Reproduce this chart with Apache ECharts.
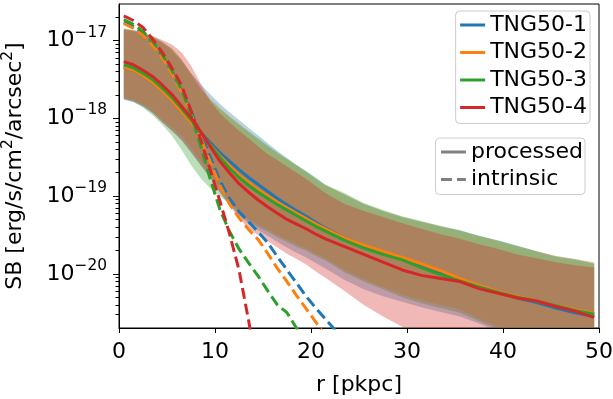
<!DOCTYPE html>
<html>
<head>
<meta charset="utf-8">
<script src="https://cdn.jsdelivr.net/npm/echarts@6/dist/echarts.min.js"></script>
<style>
  html, body { margin: 0; padding: 0; background: #fff; }
  #chart { width: 613px; height: 399px; }
</style>
</head>
<body>
<div id="chart"></div>
<script>
// radius grid [pkpc]
const R = [0.5, 1.5, 2.5, 3.5, 4.5, 5.5, 6.5, 7.5, 8.5, 9.5, 10.5, 11.5, 12.5, 13.5, 14.5, 15.5,
  16.5, 17.5, 18.5, 19.5, 20.5, 21.5, 23.5, 25.5, 27.5, 29.5, 31.5, 33.5, 35.5, 37.5, 39.5,
  41.5, 43.5, 45.5, 47.5, 49.5];

const SIMS = ["TNG50-1", "TNG50-2", "TNG50-3", "TNG50-4"];
const COLORS = ["#1f77b4", "#ff7f0e", "#2ca02c", "#d62728"];

// all values are log10(SB)

// processed (solid)
const proc1 = [-17.34, -17.38, -17.45, -17.54, -17.65, -17.77, -17.91, -18.04, -18.18, -18.31, -18.44, -18.55, -18.66, -18.76, -18.85, -18.94, -19.03, -19.11, -19.19, -19.26, -19.34, -19.41, -19.54, -19.64, -19.73, -19.81, -19.90, -19.98, -20.07, -20.16, -20.24, -20.31, -20.37, -20.44, -20.50, -20.55];
const proc2 = [-17.34, -17.38, -17.45, -17.54, -17.65, -17.77, -17.91, -18.05, -18.20, -18.34, -18.48, -18.61, -18.73, -18.83, -18.92, -19.00, -19.08, -19.15, -19.22, -19.29, -19.36, -19.42, -19.54, -19.63, -19.71, -19.79, -19.87, -19.96, -20.06, -20.15, -20.23, -20.29, -20.35, -20.41, -20.46, -20.51];
const proc3 = [-17.31, -17.35, -17.42, -17.50, -17.61, -17.73, -17.87, -18.02, -18.18, -18.34, -18.50, -18.64, -18.76, -18.86, -18.95, -19.03, -19.11, -19.18, -19.25, -19.32, -19.39, -19.45, -19.57, -19.67, -19.75, -19.82, -19.92, -20.01, -20.09, -20.17, -20.24, -20.30, -20.35, -20.41, -20.47, -20.52];
const proc4 = [-17.27, -17.31, -17.38, -17.46, -17.57, -17.69, -17.84, -17.99, -18.17, -18.36, -18.55, -18.70, -18.84, -18.95, -19.05, -19.14, -19.22, -19.30, -19.36, -19.42, -19.49, -19.55, -19.65, -19.75, -19.85, -19.95, -20.02, -20.06, -20.10, -20.19, -20.25, -20.31, -20.35, -20.42, -20.48, -20.56];

// intrinsic (dashed), same radii until they drop out of the plot
const intr1 = [-16.76, -16.82, -16.91, -17.04, -17.20, -17.40, -17.64, -17.91, -18.20, -18.49, -18.80, -19.03, -19.20, -19.33, -19.46, -19.60, -19.78, -19.95, -20.12, -20.29, -20.44, -20.58, -20.86];
const intr2 = [-16.78, -16.84, -16.93, -17.06, -17.22, -17.42, -17.66, -17.94, -18.25, -18.56, -18.86, -19.10, -19.28, -19.43, -19.56, -19.74, -19.93, -20.10, -20.28, -20.45, -20.62, -20.80];
const intr3 = [-16.73, -16.79, -16.88, -17.01, -17.18, -17.38, -17.63, -17.95, -18.35, -18.78, -19.17, -19.45, -19.68, -19.86, -20.03, -20.22, -20.40, -20.50, -20.70, -20.90];
const intr4 = [-16.68, -16.74, -16.83, -16.98, -17.15, -17.35, -17.57, -17.90, -18.27, -18.66, -19.06, -19.48, -19.95, -20.60, -21.30];

// scatter bands (upper / lower edges)
const up1 = [-16.86, -16.88, -16.91, -16.96, -17.03, -17.12, -17.26, -17.42, -17.56, -17.69, -17.81, -17.92, -18.02, -18.12, -18.22, -18.32, -18.42, -18.51, -18.60, -18.68, -18.77, -18.86, -18.98, -19.10, -19.19, -19.27, -19.33, -19.39, -19.44, -19.51, -19.57, -19.64, -19.71, -19.77, -19.81, -19.86];
const up2 = [-16.85, -16.87, -16.90, -16.95, -17.02, -17.10, -17.24, -17.42, -17.60, -17.74, -17.86, -17.97, -18.07, -18.17, -18.27, -18.36, -18.45, -18.53, -18.61, -18.70, -18.78, -18.86, -18.98, -19.10, -19.19, -19.27, -19.33, -19.39, -19.45, -19.52, -19.58, -19.65, -19.71, -19.77, -19.81, -19.85];
const up3 = [-16.84, -16.86, -16.89, -16.94, -17.01, -17.10, -17.24, -17.43, -17.62, -17.76, -17.88, -17.98, -18.08, -18.17, -18.26, -18.35, -18.44, -18.52, -18.60, -18.68, -18.76, -18.85, -18.96, -19.09, -19.18, -19.26, -19.32, -19.38, -19.44, -19.51, -19.57, -19.64, -19.71, -19.78, -19.82, -19.87];
const up4 = [-16.85, -16.87, -16.90, -16.94, -16.99, -17.05, -17.15, -17.32, -17.55, -17.78, -17.93, -18.05, -18.16, -18.26, -18.36, -18.46, -18.54, -18.62, -18.70, -18.78, -18.87, -18.96, -19.10, -19.19, -19.27, -19.35, -19.42, -19.49, -19.55, -19.62, -19.68, -19.75, -19.80, -19.85, -19.89, -19.92];

const lo1 = [-17.76, -17.79, -17.85, -17.93, -18.05, -18.16, -18.27, -18.43, -18.60, -18.77, -18.95, -19.11, -19.25, -19.36, -19.44, -19.51, -19.59, -19.66, -19.73, -19.79, -19.86, -19.93, -20.08, -20.20, -20.29, -20.36, -20.43, -20.49, -20.55, -20.64, -20.74, -20.84, -20.92, -20.98, -21.04, -21.08];
const lo2 = [-17.73, -17.76, -17.82, -17.90, -18.02, -18.12, -18.22, -18.38, -18.55, -18.72, -18.90, -19.06, -19.20, -19.30, -19.37, -19.43, -19.50, -19.56, -19.62, -19.67, -19.74, -19.80, -19.95, -20.07, -20.17, -20.27, -20.34, -20.40, -20.46, -20.58, -20.68, -20.77, -20.84, -20.90, -20.95, -21.00];
const lo3 = [-17.75, -17.79, -17.86, -17.96, -18.08, -18.22, -18.40, -18.60, -18.77, -18.90, -19.00, -19.10, -19.23, -19.33, -19.40, -19.46, -19.53, -19.59, -19.65, -19.70, -19.77, -19.83, -19.98, -20.10, -20.20, -20.30, -20.38, -20.44, -20.50, -20.61, -20.71, -20.80, -20.88, -20.94, -20.99, -21.04];
const lo4 = [-17.75, -17.78, -17.84, -17.93, -18.05, -18.16, -18.28, -18.44, -18.60, -18.76, -18.95, -19.12, -19.28, -19.42, -19.50, -19.58, -19.66, -19.74, -19.81, -19.88, -19.97, -20.05, -20.22, -20.40, -20.55, -20.68, -20.80, -20.90, -21.00, -21.08, -21.15, -21.22, -21.28, -21.33, -21.38, -21.42];

const PROC = [proc1, proc2, proc3, proc4];
const INTR = [intr1, intr2, intr3, intr4];
const UP = [up1, up2, up3, up4];
const LO = [lo1, lo2, lo3, lo4];

const MAJOR = [1e-20, 1e-19, 1e-18, 1e-17];

const sb = (e) => Math.pow(10, e);
const pairs = (arr) => arr.map((e, i) => [R[i], sb(e)]);

const yMin = sb(-20.697);
const yMax = sb(-16.528);

// minor log ticks 2..9 x 10^n
const MINOR = [];
for (let n = -21; n <= -17; n++) {
  for (let k = 2; k <= 9; k++) {
    const v = k * Math.pow(10, n);
    if (v > yMin && v < yMax) MINOR.push(v);
  }
}

const FONT = "DejaVu Sans";
const series = [];

// bands: one polygon per simulation, drawn through the axes with api.coord
SIMS.forEach((name, i) => {
  const bandData = R.map((x, j) => [x, sb(LO[i][j]), sb(UP[i][j])]);
  series.push({
    name: name + " band",
    type: "custom",
    silent: true,
    data: bandData,
    encode: { x: 0, y: [1, 2] },
    renderItem: (params, api) => {
      if (params.dataIndex !== 0) return null;
      const top = bandData.map((d) => api.coord([d[0], d[2]]));
      const bottom = bandData.map((d) => api.coord([d[0], d[1]])).reverse();
      const cs = params.coordSys;
      return {
        type: "polygon",
        shape: { points: top.concat(bottom) },
        style: { fill: COLORS[i], opacity: 0.33 },
        clipPath: {
          type: "rect",
          shape: { x: cs.x, y: cs.y, width: cs.width, height: cs.height },
        },
      };
    },
  });
});

SIMS.forEach((name, i) => {
  series.push({
    name: name,
    type: "line",
    data: pairs(PROC[i]),
    symbol: "none",
    color: COLORS[i],
    lineStyle: { width: 3, color: COLORS[i] },
  });
  series.push({
    name: name + " intrinsic",
    type: "line",
    data: pairs(INTR[i]),
    symbol: "none",
    color: COLORS[i],
    lineStyle: { width: 3, color: COLORS[i], type: [11, 5] },
  });
});

// dummy series for the line style legend
series.push({
  name: "processed", type: "line", data: [], symbol: "none",
  color: "#808080", lineStyle: { width: 3, color: "#808080" },
});
series.push({
  name: "intrinsic", type: "line", data: [], symbol: "none",
  color: "#808080", lineStyle: { width: 3, color: "#808080", type: [11, 5] },
});

const legendBase = {
  orient: "vertical",
  itemWidth: 25,
  itemHeight: 3,
  itemGap: 5.5,
  selectedMode: false,
  backgroundColor: "rgba(255,255,255,0.8)",
  borderColor: "#cccccc",
  borderWidth: 1,
  borderRadius: 4,
  lineStyle: { width: 3 },
  itemStyle: { opacity: 0 },
  textStyle: { fontFamily: FONT, fontSize: 22, lineHeight: 22, color: "#000" },
};

const chart = echarts.init(document.getElementById("chart"), null, { renderer: "canvas" });

chart.setOption({
  animation: false,
  backgroundColor: "#fff",
  textStyle: { fontFamily: FONT },
  grid: {
    left: 119, right: 14, top: 4, bottom: 71,
    containLabel: false,
    outerBoundsMode: "none",
    show: true, borderColor: "#000", borderWidth: 1, backgroundColor: "transparent",
  },
  legend: [
    Object.assign({}, legendBase, {
      data: SIMS, right: 23, top: 11, padding: [3, 3, 5, 3],
    }),
    Object.assign({}, legendBase, {
      data: ["processed", "intrinsic"], right: 28, top: 138, padding: [3, 2, 4, 4],
    }),
  ],
  xAxis: {
    type: "value",
    min: 0, max: 50, interval: 10,
    axisLine: { show: true, onZero: false, lineStyle: { color: "#000", width: 1 } },
    axisTick: { show: true, length: 5, lineStyle: { color: "#000" } },
    axisLabel: { fontFamily: FONT, fontSize: 22, color: "#000", margin: 13 },
    splitLine: { show: false },
    name: "r [pkpc]",
    nameLocation: "middle",
    nameGap: 46,
    nameTextStyle: { fontFamily: FONT, fontSize: 22, color: "#000" },
  },
  yAxis: [
    {
      type: "log",
      min: yMin, max: yMax,
      axisLine: { show: true, lineStyle: { color: "#000", width: 1 } },
      axisTick: { show: true, length: 6, lineStyle: { color: "#000" }, customValues: MAJOR },
      axisLabel: {
        customValues: MAJOR,
        margin: 12,
        color: "#000",
        formatter: (v) => "{b|10}{s|\u2212" + Math.round(-Math.log10(v)) + "}",
        rich: {
          b: { fontFamily: FONT, fontSize: 22, color: "#000" },
          s: { fontFamily: FONT, fontSize: 15.4, color: "#000", padding: [0, 0, 16, 0] },
        },
      },
      splitLine: { show: false },
      name: "SB [erg/s/cm{s|2}/arcsec{s|2}]",
      nameLocation: "middle",
      nameRotate: 90,
      nameGap: 88,
      nameTextStyle: {
        fontFamily: FONT, fontSize: 22, color: "#000",
        rich: { s: { fontFamily: FONT, fontSize: 15.4, color: "#000", padding: [0, 0, 16, 0] } },
      },
    },
    {
      type: "log",
      position: "left",
      min: yMin, max: yMax,
      axisLine: { show: false },
      axisTick: { show: true, length: 3.5, lineStyle: { color: "#000" }, customValues: MINOR },
      axisLabel: { show: false },
      splitLine: { show: false },
    },
  ],
  series: series,
});
</script>
</body>
</html>
